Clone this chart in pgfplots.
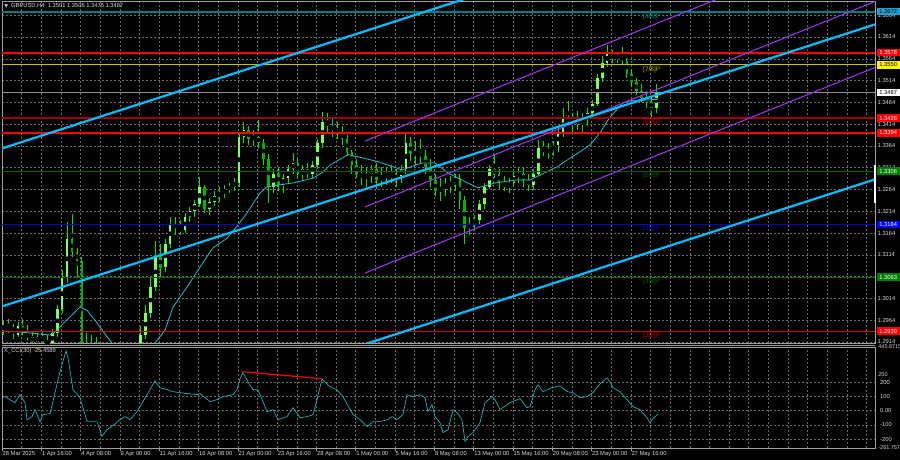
\documentclass[border=0pt]{standalone}
\usepackage{pgfplots}
\pgfplotsset{compat=1.18}
\usepackage{pgfplotstable}
\usepackage{fontspec}
\setmainfont{Liberation Sans}
\newfontfamily\dejavu{DejaVu Sans}
\definecolor{gridc}{HTML}{6A6A6A}
\definecolor{txt}{HTML}{D8D8D8}
\definecolor{frame}{HTML}{A0A0A0}
\definecolor{chblue}{HTML}{00BFFF}
\definecolor{purp}{HTML}{9A32E6}
\definecolor{wick}{HTML}{00E600}
\definecolor{bull}{HTML}{7CFF5A}
\definecolor{bear}{HTML}{00B400}
\definecolor{ma}{HTML}{20C0D0}
\definecolor{cci}{HTML}{20B2AA}
\definecolor{lvred}{HTML}{FF0000}
\definecolor{lvdred}{HTML}{A00000}
\definecolor{lvyel}{HTML}{C8C800}
\definecolor{lvteal}{HTML}{008080}
\definecolor{lvgreen}{HTML}{006400}
\definecolor{lvblue}{HTML}{0000D0}
\definecolor{cur}{HTML}{909090}

\pgfplotstableread{
x o h l c
3.2 1.2945 1.2962 1.2930 1.2950
8.1 1.2950 1.2968 1.2935 1.2940
13.0 1.2940 1.2955 1.2922 1.2945
17.9 1.2930 1.2960 1.2925 1.2950
22.8 1.2950 1.2966 1.2930 1.2935
27.8 1.2935 1.2952 1.2918 1.2925
32.7 1.2925 1.2940 1.2905 1.2915
37.6 1.2915 1.2935 1.2900 1.2925
42.5 1.2925 1.2940 1.2905 1.2915
47.4 1.2915 1.2930 1.2895 1.2910
52.3 1.2910 1.2945 1.2900 1.2935
57.2 1.2935 1.3000 1.2925 1.2990
62.1 1.2990 1.3080 1.2980 1.3060
67.0 1.3060 1.3190 1.3050 1.3150
71.9 1.3150 1.3207 1.3110 1.3120
76.9 1.3120 1.3130 1.3060 1.3100
81.8 1.3100 1.3110 1.2850 1.2880
86.7 1.2880 1.2935 1.2860 1.2900
91.6 1.2900 1.2930 1.2820 1.2850
96.5 1.2850 1.2925 1.2760 1.2800
101.4 1.2800 1.2860 1.2710 1.2750
106.3 1.2750 1.2820 1.2740 1.2790
111.2 1.2790 1.2830 1.2760 1.2800
116.1 1.2800 1.2810 1.2760 1.2770
121.0 1.2770 1.2790 1.2730 1.2760
125.9 1.2760 1.2800 1.2740 1.2790
130.8 1.2790 1.2860 1.2780 1.2840
135.8 1.2840 1.2890 1.2830 1.2880
140.7 1.2880 1.2950 1.2870 1.2930
145.6 1.2930 1.3000 1.2920 1.2980
150.5 1.2980 1.3060 1.2970 1.3040
155.4 1.3040 1.3145 1.3030 1.3110
160.3 1.3110 1.3140 1.3060 1.3085
165.2 1.3085 1.3150 1.3075 1.3140
170.1 1.3140 1.3200 1.3130 1.3185
175.0 1.3185 1.3200 1.3160 1.3175
179.9 1.3175 1.3195 1.3160 1.3170
184.9 1.3170 1.3210 1.3165 1.3200
189.8 1.3200 1.3225 1.3190 1.3215
194.7 1.3215 1.3240 1.3200 1.3230
199.6 1.3230 1.3292 1.3225 1.3270
204.5 1.3270 1.3275 1.3210 1.3220
209.4 1.3220 1.3245 1.3205 1.3235
214.3 1.3235 1.3260 1.3225 1.3250
219.2 1.3250 1.3270 1.3235 1.3255
224.1 1.3255 1.3275 1.3245 1.3265
229.1 1.3265 1.3280 1.3255 1.3270
234.0 1.3270 1.3290 1.3260 1.3280
238.9 1.3280 1.3395 1.3270 1.3385
243.8 1.3385 1.3418 1.3370 1.3400
248.7 1.3400 1.3410 1.3365 1.3380
253.6 1.3380 1.3400 1.3365 1.3385
258.5 1.3385 1.3424 1.3360 1.3370
263.4 1.3370 1.3380 1.3320 1.3335
268.3 1.3335 1.3345 1.3232 1.3270
273.3 1.3270 1.3310 1.3255 1.3300
278.2 1.3300 1.3315 1.3260 1.3275
283.1 1.3275 1.3300 1.3255 1.3290
288.0 1.3290 1.3320 1.3280 1.3310
292.9 1.3310 1.3348 1.3300 1.3325
297.8 1.3325 1.3335 1.3290 1.3300
302.7 1.3300 1.3320 1.3285 1.3310
307.6 1.3310 1.3325 1.3290 1.3300
312.5 1.3300 1.3330 1.3290 1.3320
317.5 1.3320 1.3380 1.3310 1.3370
322.4 1.3370 1.3443 1.3360 1.3420
327.3 1.3420 1.3440 1.3395 1.3410
332.2 1.3410 1.3425 1.3385 1.3400
337.1 1.3400 1.3420 1.3380 1.3395
342.0 1.3395 1.3410 1.3365 1.3380
346.9 1.3380 1.3390 1.3340 1.3350
351.8 1.3350 1.3355 1.3300 1.3320
356.7 1.3320 1.3335 1.3290 1.3300
361.6 1.3300 1.3320 1.3275 1.3290
366.5 1.3290 1.3315 1.3270 1.3300
371.5 1.3300 1.3320 1.3280 1.3310
376.4 1.3310 1.3325 1.3265 1.3285
381.3 1.3285 1.3315 1.3270 1.3295
386.2 1.3295 1.3315 1.3275 1.3300
391.1 1.3300 1.3320 1.3280 1.3290
396.0 1.3290 1.3310 1.3270 1.3295
400.9 1.3295 1.3320 1.3280 1.3310
405.8 1.3310 1.3397 1.3300 1.3370
410.7 1.3370 1.3385 1.3330 1.3345
415.6 1.3345 1.3375 1.3320 1.3350
420.6 1.3350 1.3380 1.3325 1.3340
425.5 1.3340 1.3355 1.3300 1.3315
430.4 1.3315 1.3335 1.3270 1.3285
435.3 1.3285 1.3300 1.3250 1.3260
440.2 1.3260 1.3290 1.3238 1.3270
445.1 1.3270 1.3290 1.3250 1.3275
450.0 1.3275 1.3295 1.3255 1.3280
454.9 1.3280 1.3300 1.3260 1.3290
459.8 1.3290 1.3300 1.3220 1.3240
464.7 1.3240 1.3250 1.3140 1.3175
469.7 1.3175 1.3200 1.3160 1.3185
474.6 1.3185 1.3205 1.3170 1.3195
479.5 1.3195 1.3240 1.3185 1.3230
484.4 1.3230 1.3280 1.3220 1.3270
489.3 1.3270 1.3320 1.3265 1.3310
494.2 1.3310 1.3345 1.3290 1.3300
499.1 1.3300 1.3310 1.3265 1.3280
504.0 1.3280 1.3295 1.3260 1.3270
508.9 1.3270 1.3290 1.3255 1.3280
513.8 1.3280 1.3305 1.3270 1.3295
518.8 1.3295 1.3315 1.3280 1.3300
523.7 1.3300 1.3315 1.3270 1.3285
528.6 1.3285 1.3300 1.3260 1.3275
533.5 1.3275 1.3310 1.3262 1.3300
538.4 1.3300 1.3378 1.3295 1.3360
543.3 1.3360 1.3375 1.3340 1.3350
548.2 1.3350 1.3370 1.3335 1.3355
553.1 1.3355 1.3375 1.3340 1.3365
558.0 1.3365 1.3410 1.3350 1.3395
562.9 1.3395 1.3450 1.3385 1.3430
567.9 1.3430 1.3468 1.3410 1.3420
572.8 1.3420 1.3440 1.3395 1.3425
577.7 1.3425 1.3445 1.3400 1.3415
582.6 1.3415 1.3440 1.3395 1.3425
587.5 1.3425 1.3450 1.3410 1.3440
592.4 1.3440 1.3470 1.3430 1.3460
597.3 1.3460 1.3530 1.3455 1.3520
602.2 1.3520 1.3570 1.3510 1.3555
607.1 1.3555 1.3595 1.3545 1.3575
612.0 1.3575 1.3585 1.3555 1.3565
617.0 1.3565 1.3580 1.3555 1.3570
621.9 1.3570 1.3590 1.3550 1.3560
626.8 1.3560 1.3565 1.3520 1.3530
631.7 1.3530 1.3540 1.3500 1.3510
636.6 1.3510 1.3520 1.3480 1.3490
641.5 1.3490 1.3505 1.3465 1.3475
646.4 1.3475 1.3490 1.3450 1.3465
651.3 1.3465 1.3475 1.3425 1.3450
656.2 1.3450 1.3506 1.3440 1.3487
}\candles

\pgfplotstableread{
x p
2 1.2939
20 1.2937
50 1.2930
55 1.2937
67 1.2965
80 1.2994
87 1.2987
97 1.2958
107 1.2926
112 1.2912
122 1.2865
135 1.2842
145 1.2862
155 1.2912
165 1.2941
173 1.2994
187 1.3040
200 1.3086
213 1.3130
227 1.3152
237 1.3180
247 1.3210
260 1.3256
267 1.3270
277 1.3274
293 1.3279
313 1.3290
323 1.3304
330 1.3320
348 1.3344
358 1.3339
378 1.3328
402 1.3309
422 1.3325
435 1.3325
448 1.3302
465 1.3282
478 1.3268
495 1.3279
517 1.3286
530 1.3286
557 1.3316
590 1.3366
600 1.3394
610 1.3430
623 1.3463
633 1.3469
643 1.3469
658 1.3471
}\mavals

\pgfplotstableread{
x v
2 89
5 98
10 77
15 56
20 112
25 56
27 -63
32 -42
35 7
40 -77
43 -28
50 -21
55 126
60 272
66 419
68 370
73 147
80 91
87 -77
92 -77
97 -77
102 -181
107 -133
113 -105
120 -63
125 -42
130 -63
137 -7
143 63
150 147
155 209
160 161
167 147
173 133
180 126
188 119
197 112
200 119
210 63
217 77
223 98
233 112
237 147
240 223
243 265
248 202
253 147
258 147
267 -7
273 7
278 -63
287 -42
293 21
300 -49
307 -42
313 -28
317 77
322 223
325 202
330 167
337 147
343 98
353 -28
360 -63
367 -112
373 -77
380 -77
388 -63
392 -42
397 -63
403 -28
407 112
413 98
420 112
425 91
428 -7
432 42
435 -42
440 -84
443 -154
448 -133
453 7
457 -14
462 -63
465 -216
468 -181
473 -154
480 -84
485 56
492 98
495 77
500 7
510 56
520 84
527 21
530 28
535 147
538 181
543 133
552 161
560 174
567 133
573 126
580 91
587 98
593 126
600 188
607 230
610 202
613 161
620 133
627 77
633 28
640 7
647 -49
650 -84
655 -42
658 -25
}\ccivals

\newcommand{\tf}{\fontsize{5.8}{6}\selectfont}

\begin{document}
\begin{tikzpicture}
\useasboundingbox (0bp,0bp) rectangle (900bp,460bp);
\fill[black] (0bp,0bp) rectangle (900bp,460bp);

\pgfplotsset{
  mtgrid/.style={
    xmin=2, xmax=875,
    scale only axis, width=873bp,
    axis line style={draw=frame, line width=0.6bp},
    grid=both,
    major grid style={gridc, dash pattern=on 2bp off 2bp, line width=0.5bp},
    minor grid style={gridc, dash pattern=on 2bp off 2bp, line width=0.5bp},
    xtick={2,41.3,80.6,119.9,159.2,198.5,237.8,277.1,316.4,355.7,395.0,434.3,473.6,512.9,552.2,591.5,630.8},
    minor xtick={21.65,60.95,100.25,139.55,178.85,218.15,257.45,296.75,336.05,375.35,414.65,453.95,493.25,532.55,571.85,611.15,650.45,670.1,689.75,709.4,729.05,748.7,768.35,788.0,807.65,827.3,846.95,866.6},
    minor tick length=0pt,
    yticklabel pos=right,
    ytick style={draw=none},
    every tick label/.append style={font=\tf, text=txt},
    yticklabel style={anchor=west, inner sep=0pt, xshift=2.5bp},
    clip mode=individual,
  }
}

% ---------------- main price panel ----------------
\begin{axis}[mtgrid,
  at={(2bp,459bp)}, anchor=north west, height=342bp,
  ymin=1.291172, ymax=1.369662,
  xticklabels={{}}, major tick length=0pt,
  ytick={1.2914,1.2964,1.3014,1.3064,1.3114,1.3164,1.3214,1.3264,1.3314,1.3364,1.3414,1.3464,1.3514,1.3564,1.3614,1.3664},
  yticklabels={1.2914,1.2964,1.3014,1.3064,1.3114,1.3164,1.3214,1.3264,1.3314,1.3364,1.3414,1.3464,1.3514,1.3564,1.3614,1.3664},
]
% candles: wicks
\addplot[only marks, mark=none, error bars/.cd, y dir=both, y explicit, error mark=none,
  error bar style={draw=wick, line width=0.8bp}]
  table[x=x, y expr={(\thisrow{h}+\thisrow{l})/2}, y error expr={(\thisrow{h}-\thisrow{l})/2}] {\candles};
% bull bodies
\addplot[only marks, mark=none, error bars/.cd, y dir=both, y explicit, error mark=none,
  error bar style={draw=bull, line width=2.6bp}]
  table[x=x, y expr={(\thisrow{o}+\thisrow{c})/2}, y error expr={max(\thisrow{c}-\thisrow{o},0)/2}] {\candles};
% bear bodies
\addplot[only marks, mark=none, error bars/.cd, y dir=both, y explicit, error mark=none,
  error bar style={draw=bear, line width=2.6bp}]
  table[x=x, y expr={(\thisrow{o}+\thisrow{c})/2}, y error expr={max(\thisrow{o}-\thisrow{c},0)/2}] {\candles};
% moving average
\addplot[ma, line width=0.8bp, mark=none] table[x=x, y=p] {\mavals};
% horizontal levels
\addplot[lvteal, line width=1.6bp, mark=none] coordinates {(2,1.3672) (875,1.3672)};
\addplot[lvred, line width=2.2bp, mark=none] coordinates {(2,1.3578) (875,1.3578)};
\addplot[lvyel, line width=0.8bp, mark=none] coordinates {(2,1.3550) (875,1.3550)};
\addplot[cur, line width=0.7bp, mark=none] coordinates {(2,1.3487) (875,1.3487)};
\addplot[lvdred, line width=1.2bp, mark=none] coordinates {(2,1.3428) (875,1.3428)};
\addplot[lvred, line width=2.2bp, mark=none] coordinates {(2,1.3394) (875,1.3394)};
\addplot[lvgreen, line width=0.9bp, mark=none] coordinates {(2,1.3306) (875,1.3306)};
\addplot[lvblue, line width=1.4bp, mark=none] coordinates {(2,1.3184) (875,1.3184)};
\addplot[lvgreen, line width=0.9bp, mark=none] coordinates {(2,1.3063) (875,1.3063)};
\addplot[lvred!85!black, line width=1.2bp, mark=none] coordinates {(2,1.2939) (875,1.2939)};
% regression channel (purple)
\addplot[purp, line width=1.1bp, mark=none] coordinates {(365,1.33753) (875,1.38469)};
\addplot[purp, line width=1.1bp, mark=none] coordinates {(365,1.32239) (875,1.36955)};
\addplot[purp, line width=1.1bp, mark=none] coordinates {(365,1.30724) (875,1.35440)};
% trend channel (blue)
\addplot[chblue, line width=2.2bp, mark=none] coordinates {(2,1.33583) (875,1.40055)};
\addplot[chblue, line width=2.2bp, mark=none] coordinates {(2,1.29957) (875,1.36429)};
\addplot[chblue, line width=2.2bp, mark=none] coordinates {(2,1.26400) (875,1.32872)};
% level names
\begin{scope}[every node/.style={font=\fontsize{6.5}{7}\selectfont, inner sep=0pt, anchor=north west}]
\node[text=lvteal!90!cyan] at (axis cs:643,1.3668) {[8/8]P};
\node[text=lvyel!90!black] at (axis cs:643,1.3546) {[7/8]P};
\node[text=red!80!black] at (axis cs:643,1.3424) {[6/8]P};
\node[text=lvgreen] at (axis cs:643,1.3302) {[5/8]P};
\node[text=lvblue] at (axis cs:643,1.3180) {[4/8]P};
\node[text=lvgreen] at (axis cs:643,1.3059) {[3/8]P};
\node[text=red!80!black] at (axis cs:643,1.2935) {[2/8]P};
\end{scope}
\coordinate (L1) at (axis cs:875,1.3672);
\coordinate (L2) at (axis cs:875,1.3578);
\coordinate (L3) at (axis cs:875,1.3550);
\coordinate (L4) at (axis cs:875,1.3487);
\coordinate (L5) at (axis cs:875,1.3428);
\coordinate (L6) at (axis cs:875,1.3394);
\coordinate (L7) at (axis cs:875,1.3306);
\coordinate (L8) at (axis cs:875,1.3184);
\coordinate (L9) at (axis cs:875,1.3063);
\coordinate (L10) at (axis cs:875,1.2939);
\end{axis}

% price tags on the scale
\begin{scope}[every node/.style={font=\tf, anchor=west, inner sep=0.6bp, minimum width=23bp, minimum height=7.5bp, xshift=1.5bp}]
\node[fill=cyan!70!teal, text=black] at (L1) {1.3672};
\node[fill=red, text=white] at (L2) {1.3578};
\node[fill=yellow, text=black] at (L3) {1.3550};
\node[fill=white, text=black] at (L4) {1.3487};
\node[fill=red, text=white] at (L5) {1.3428};
\node[fill=red, text=white] at (L6) {1.3394};
\node[fill=green!50!black, text=white] at (L7) {1.3306};
\node[fill=blue, text=white] at (L8) {1.3184};
\node[fill=green!50!black, text=white] at (L9) {1.3063};
\node[fill=red, text=white] at (L10) {1.2939};
\end{scope}

% separator between panels
\draw[frame, line width=0.6bp] (2bp,114.5bp) -- (875bp,114.5bp);
\draw[white, line width=1.6bp] (875bp,257bp) -- (875bp,295bp);

% ---------------- CCI panel ----------------
\begin{axis}[mtgrid,
  at={(2bp,113bp)}, anchor=north west, height=101bp,
  ymin=-261.7573, ymax=445.8715,
  xtick pos=bottom, tick align=outside, major tick length=2.5bp,
  xtick style={draw=frame, line width=0.5bp},
  xticklabels={28 Mar 2025,1 Apr 16:00,4 Apr 08:00,9 Apr 00:00,11 Apr 16:00,16 Apr 08:00,21 Apr 00:00,23 Apr 16:00,28 Apr 08:00,1 May 00:00,5 May 16:00,8 May 08:00,13 May 00:00,15 May 16:00,20 May 08:00,23 May 00:00,27 May 16:00},
  xticklabel style={anchor=north west, inner sep=0pt, xshift=0.5bp, yshift=-1bp},
  ytick={-200,-100,0,100,200},
  yticklabels={-200,-100,0.00,100,200},
  extra y ticks={-261.7573,250,445.8715},
  extra y tick labels={-261.7573,250,445.8715},
  extra y tick style={grid=none, ytick style={draw=none}, yticklabel style={xshift=-1.8bp, font=\fontsize{5.5}{6}\selectfont}},
]
\addplot[cci, line width=0.7bp, mark=none] table[x=x, y=v] {\ccivals};
\addplot[red, line width=1.2bp, mark=none] coordinates {(242,273) (322,224)};
\end{axis}

% titles
\node[anchor=west, inner sep=0pt, text=txt, font=\dejavu\fontsize{4.5}{5}\selectfont] at (4.5bp,454bp) {▼};
\node[anchor=west, inner sep=0pt, text=txt, font=\tf] at (11bp,454bp) {GBPUSD,H4\ \ 1.3501 1.3506 1.3475 1.3487};
\node[anchor=west, inner sep=0pt, text=txt, font=\tf] at (4bp,108.5bp) {X\_CCI(30) -25.4589};
\end{tikzpicture}
\end{document}
